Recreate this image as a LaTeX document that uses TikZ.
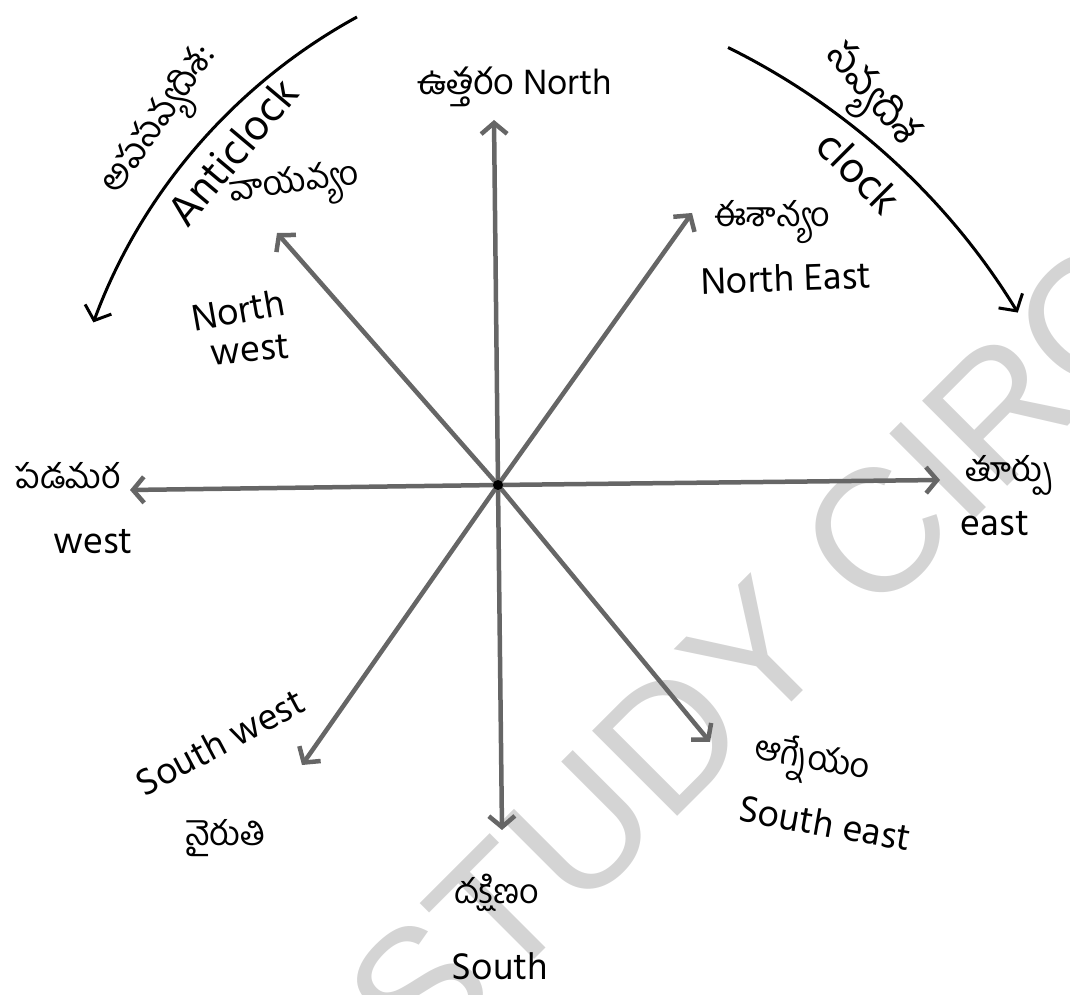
\documentclass[tikz,border=0pt]{standalone}
\usepackage{fontspec}
\setmainfont{Hind Guntur}
\newfontfamily\te[Script=Telugu]{Hind Guntur}
\newfontfamily\wmfont{Liberation Sans}
\usetikzlibrary{arrows.meta}
\begin{document}
\begin{tikzpicture}[x=1pt,y=1pt,
  dirarrow/.style={draw=black!60, line width=4.5pt, -{Straight Barb[length=11pt,width=26pt]}},
  arcarrow/.style={draw=black, line width=3pt, -{Straight Barb[length=12pt,width=28pt]}},
  lbl/.style={font=\fontsize{38}{40}\selectfont, inner sep=0pt},
  tlbl/.style={font=\te\fontsize{34}{36}\selectfont, inner sep=0pt},
  wmark/.style={font=\wmfont\fontsize{175}{175}\selectfont, text=black!17, inner sep=0pt}
]
\useasboundingbox (0,0) rectangle (1070,994);
\begin{scope}
\clip (0,0) rectangle (1070,994);
\node[wmark, rotate=45, anchor=base west] (wm) at (420,-80) {STUDY CIRC};
\end{scope}

% compass
\coordinate (C) at (498,509);
\coordinate (N) at (494,874);
\coordinate (NE) at (692,781);
\coordinate (E) at (940,514);
\coordinate (SE) at (710,252);
\coordinate (S) at (502,164);
\coordinate (SW) at (302,229);
\coordinate (W) at (130,504);
\coordinate (NW) at (277,761);
\foreach \d in {N,NE,E,SE,S,SW,W,NW} \draw[dirarrow] (C) -- (\d);
\fill[black] (C) circle (5);

% rotation arcs
\coordinate (lstart) at (357,977);
\draw[arcarrow] (lstart) arc[start angle=118.7, end angle=159.7, radius=576];
\coordinate (rstart) at (728,946.5);
\draw[arcarrow] (rstart) arc[start angle=63.7, end angle=31.4, radius=706];

% labels
\node[tlbl, rotate=55, font=\te\fontsize{36}{38}\selectfont] (apas) at (163,872) {అపసవ్యదిశ:};
\node[lbl, rotate=50, font=\fontsize{44}{46}\selectfont] (anti) at (232,842) {Anticlock};
\node[tlbl, rotate=8] (vay) at (295,806) {వాయవ్యం};
\node[lbl, rotate=10] (nwn) at (238,684) {North};
\node[lbl, rotate=5] (nww) at (250,644) {west};

\node[tlbl, rotate=-50, font=\te\fontsize{40}{42}\selectfont] (savya) at (868,896) {సవ్యదిశ};
\node[lbl, rotate=-45, font=\fontsize{44}{46}\selectfont] (clock) at (859,822) {clock};

\node[lbl, font=\fontsize{36}{38}\selectfont] (nlab) at (515,907) {{\te ఉత్తరం} North};
\node[tlbl] (nea) at (772,772) {ఈశాన్యం};
\node[lbl, rotate=2] (neb) at (786,716) {North East};

\node[tlbl] (ea) at (1009,519) {తూర్పు};
\node[lbl] (eb) at (995,470) {east};

\node[tlbl, rotate=-10] (sea) at (812,232) {ఆగ్నేయం};
\node[lbl, rotate=-10] (seb) at (825,171) {South east};

\node[tlbl] (sa) at (497,101) {దక్షిణం};
\node[lbl] (sb) at (500,28) {South};

\node[lbl, rotate=28] (swa) at (220,252) {South west};
\node[tlbl] (swb) at (226,156) {నైరుతి};

\node[tlbl] (wa) at (68,518) {పడమర};
\node[lbl] (wb) at (93,452) {west};
\end{tikzpicture}
\end{document}
